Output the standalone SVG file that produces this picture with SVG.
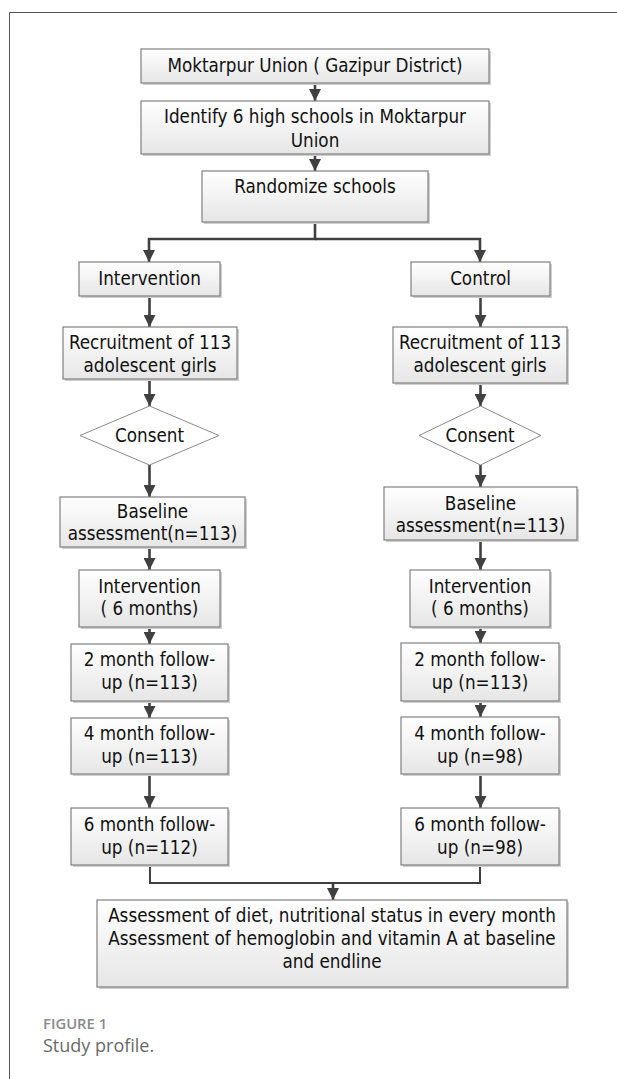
<svg xmlns="http://www.w3.org/2000/svg" width="617" height="1079" viewBox="0 0 617 1079">
<defs>
<linearGradient id="g" x1="0" y1="0" x2="0" y2="1">
<stop offset="0" stop-color="#ffffff"/>
<stop offset="1" stop-color="#e6e6e6"/>
</linearGradient>
<marker id="ah" viewBox="0 0 10 10" refX="10" refY="5" markerWidth="12" markerHeight="12" markerUnits="userSpaceOnUse" orient="auto">
<path d="M0,0 L10,5 L0,10 z" fill="#404040"/>
</marker>
<style>
.box{fill:url(#g);stroke:#808080;stroke-width:1.2}
.sh{fill:#cfcfcf}
.dia{fill:#ffffff;stroke:#8a8a8a;stroke-width:1}
.t{font-family:"DejaVu Sans Condensed","DejaVu Sans",sans-serif;font-stretch:condensed;font-size:18.7px;fill:#111;text-anchor:middle}
.c{fill:none;stroke:#404040;stroke-width:2.6}
.m{fill:none;stroke:#404040;stroke-width:2}
.cap1{font-family:"Open Sans","Liberation Sans",sans-serif;font-size:14.8px;font-weight:600;fill:#8a8a8a}
.cap2{font-family:"Open Sans","Liberation Sans",sans-serif;font-size:18px;fill:#6a6a6a}
</style>
</defs>
<rect width="617" height="1079" fill="#ffffff"/>
<path d="M9.5,1079 V12.5 H617" fill="none" stroke="#555" stroke-width="1"/>

<g id="connectors">
<path class="c" d="M315,83 V101" marker-end="url(#ah)"/>
<path class="c" d="M315,154 V171" marker-end="url(#ah)"/>
<path class="c" d="M315,222 V239 H149 V262" marker-end="url(#ah)"/>
<path class="c" d="M315,239 H480 V262" marker-end="url(#ah)"/>
<path class="c" d="M149.5,296 V327" marker-end="url(#ah)"/>
<path class="c" d="M149.5,379 V406" marker-end="url(#ah)"/>
<path class="c" d="M149.5,465 V497" marker-end="url(#ah)"/>
<path class="c" d="M149.5,547 V570" marker-end="url(#ah)"/>
<path class="c" d="M149.5,627 V644" marker-end="url(#ah)"/>
<path class="c" d="M149.5,701 V718" marker-end="url(#ah)"/>
<path class="c" d="M149.5,774 V808" marker-end="url(#ah)"/>
<path class="c" d="M480.5,296 V327" marker-end="url(#ah)"/>
<path class="c" d="M480.5,383 V406" marker-end="url(#ah)"/>
<path class="c" d="M480.5,465 V487" marker-end="url(#ah)"/>
<path class="c" d="M480.5,540 V570" marker-end="url(#ah)"/>
<path class="c" d="M480.5,627 V643" marker-end="url(#ah)"/>
<path class="c" d="M480.5,701 V717" marker-end="url(#ah)"/>
<path class="c" d="M480.5,774 V808" marker-end="url(#ah)"/>
<path class="m" d="M150,865 V883 H480 V865"/>
<path class="c" d="M333,883 V900" marker-end="url(#ah)"/>
</g>

<g id="n1"><rect class="sh" x="143" y="51" width="348" height="34"/><rect class="box" x="141" y="49" width="348" height="34"/><text class="t" x="315" y="72">Moktarpur Union ( Gazipur District)</text></g>
<g id="n2"><rect class="sh" x="143" y="103" width="348" height="53"/><rect class="box" x="141" y="101" width="348" height="53"/><text class="t" x="315" y="123">Identify 6 high schools in Moktarpur</text><text class="t" x="315" y="147">Union</text></g>
<g id="n3"><rect class="sh" x="204" y="173" width="226" height="51"/><rect class="box" x="202" y="171" width="226" height="51"/><text class="t" x="315" y="193">Randomize schools</text></g>

<g id="l1"><rect class="sh" x="81" y="264" width="141" height="34"/><rect class="box" x="79" y="262" width="141" height="34"/><text class="t" x="149.5" y="285">Intervention</text></g>
<g id="l2"><rect class="sh" x="65" y="329" width="174" height="52"/><rect class="box" x="63" y="327" width="174" height="52"/><text class="t" x="150" y="349">Recruitment of 113</text><text class="t" x="150" y="372">adolescent girls</text></g>
<g id="l3"><polygon class="dia" points="149.5,406 219,435.5 149.5,465 80,435.5"/><text class="t" x="149.5" y="442">Consent</text></g>
<g id="l4"><rect class="sh" x="62" y="499" width="185" height="50"/><rect class="box" x="60" y="497" width="185" height="50"/><text class="t" x="152.5" y="518">Baseline</text><text class="t" x="152.5" y="540">assessment(n=113)</text></g>
<g id="l5"><rect class="sh" x="81" y="572" width="141" height="57"/><rect class="box" x="79" y="570" width="141" height="57"/><text class="t" x="149.5" y="593">Intervention</text><text class="t" x="149.5" y="615">( 6 months)</text></g>
<g id="l6"><rect class="sh" x="73" y="646" width="157" height="57"/><rect class="box" x="71" y="644" width="157" height="57"/><text class="t" x="149.5" y="666">2 month follow-</text><text class="t" x="149.5" y="689">up (n=113)</text></g>
<g id="l7"><rect class="sh" x="73" y="720" width="157" height="56"/><rect class="box" x="71" y="718" width="157" height="56"/><text class="t" x="149.5" y="740">4 month follow-</text><text class="t" x="149.5" y="763">up (n=113)</text></g>
<g id="l8"><rect class="sh" x="73" y="810" width="157" height="57"/><rect class="box" x="71" y="808" width="157" height="57"/><text class="t" x="149.5" y="831">6 month follow-</text><text class="t" x="149.5" y="854">up (n=112)</text></g>

<g id="r1"><rect class="sh" x="413" y="264" width="139" height="34"/><rect class="box" x="411" y="262" width="139" height="34"/><text class="t" x="480.5" y="285">Control</text></g>
<g id="r2"><rect class="sh" x="395" y="329" width="174" height="56"/><rect class="box" x="393" y="327" width="174" height="56"/><text class="t" x="480" y="349">Recruitment of 113</text><text class="t" x="480" y="372">adolescent girls</text></g>
<g id="r3"><polygon class="dia" points="480.5,406 541,435.5 480.5,465 419,435.5"/><text class="t" x="480" y="442">Consent</text></g>
<g id="r4"><rect class="sh" x="386" y="489" width="193" height="53"/><rect class="box" x="384" y="487" width="193" height="53"/><text class="t" x="480.5" y="510">Baseline</text><text class="t" x="480.5" y="532">assessment(n=113)</text></g>
<g id="r5"><rect class="sh" x="412" y="572" width="140" height="57"/><rect class="box" x="410" y="570" width="140" height="57"/><text class="t" x="480" y="593">Intervention</text><text class="t" x="480" y="615">( 6 months)</text></g>
<g id="r6"><rect class="sh" x="403" y="645" width="158" height="58"/><rect class="box" x="401" y="643" width="158" height="58"/><text class="t" x="480" y="666">2 month follow-</text><text class="t" x="480" y="689">up (n=113)</text></g>
<g id="r7"><rect class="sh" x="403" y="719" width="158" height="57"/><rect class="box" x="401" y="717" width="158" height="57"/><text class="t" x="480" y="740">4 month follow-</text><text class="t" x="480" y="763">up (n=98)</text></g>
<g id="r8"><rect class="sh" x="403" y="810" width="158" height="57"/><rect class="box" x="401" y="808" width="158" height="57"/><text class="t" x="480" y="831">6 month follow-</text><text class="t" x="480" y="854">up (n=98)</text></g>

<g id="final"><rect class="sh" x="99" y="902" width="470" height="87"/><rect class="box" x="97" y="900" width="470" height="87"/><text class="t" x="332" y="922">Assessment of diet, nutritional status in every month</text><text class="t" x="332" y="945">Assessment of hemoglobin and vitamin A at baseline</text><text class="t" x="332" y="968">and endline</text></g>

<g id="caption"><text class="cap1" x="43" y="1029">FIGURE 1</text><text class="cap2" x="43" y="1052">Study profile.</text></g>
</svg>
